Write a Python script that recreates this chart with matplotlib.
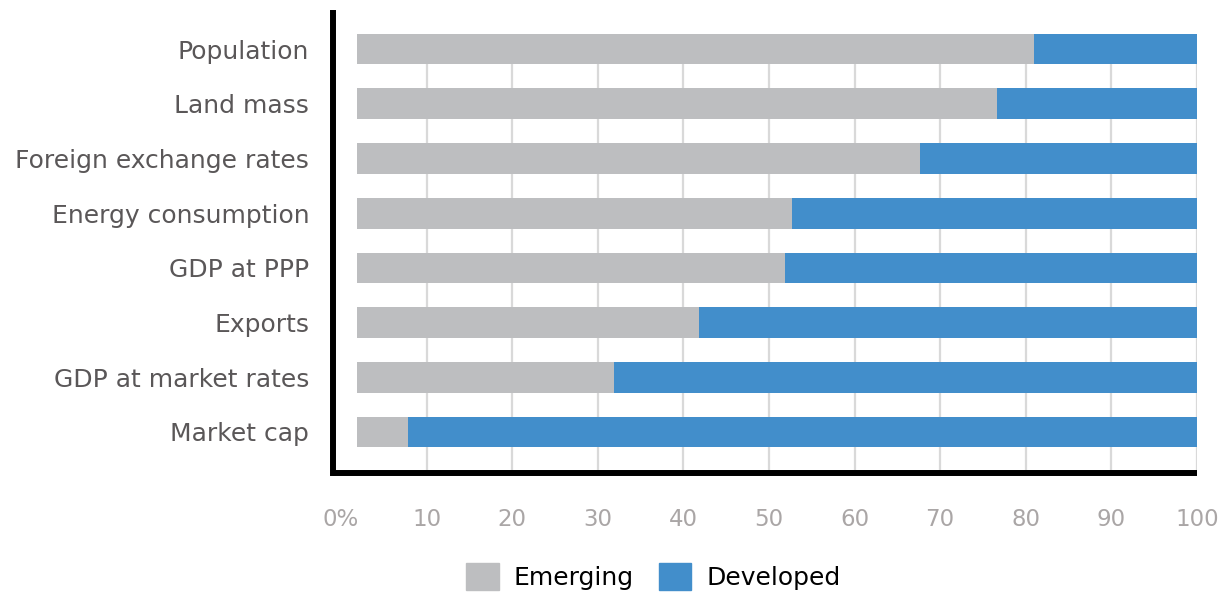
import numpy as np
import matplotlib.pyplot as plt
from matplotlib.patches import Patch

categories = ["Population", "Land mass", "Foreign exchange rates", "Energy consumption",
              "GDP at PPP", "Exports", "GDP at market rates", "Market cap"]
emerging = [81, 76.6, 67.6, 52.7, 51.9, 41.8, 31.9, 7.8]
developed = [100 - e for e in emerging]
tick_vals = [0, 10, 20, 30, 40, 50, 60, 70, 80, 90, 100]
tick_labels = ["0%", "10", "20", "30", "40", "50", "60", "70", "80", "90", "100"]

grey = "#bdbec0"
blue = "#428ecb"
font = "DejaVu Sans"

fig = plt.figure(figsize=(12.26, 5.95), dpi=100)
ax = fig.add_axes([0.2716, 0.205, 0.7047, 0.7732])

y = np.arange(len(categories))
bar_start = 1.9
h = 0.56
em_w = [e - bar_start for e in emerging]
ax.barh(y, em_w, left=bar_start, height=h, color=grey, zorder=3)
ax.barh(y, developed, left=emerging, height=h, color=blue, zorder=3)

ax.vlines(tick_vals[1:], 7.75, -h / 2, color="#d9d9d9", lw=1.6, zorder=1)

ax.set_xlim(-0.93, 100)
ax.set_ylim(7.75, -0.66)

for s in ["top", "right"]:
    ax.spines[s].set_visible(False)
ax.spines["left"].set_linewidth(4.3)
ax.spines["bottom"].set_linewidth(4.3)
ax.spines["bottom"].set_capstyle("butt")

ax.set_yticks(y)
ax.set_yticklabels(categories, fontsize=18, color="#5a5758", family=font)
ax.tick_params(axis="y", length=0, pad=17)
ax.set_xticks(tick_vals)
ax.set_xticklabels(tick_labels, fontsize=16.5, color="#aaa6a6", family=font)
ax.tick_params(axis="x", length=0, pad=25)

handles = [Patch(color=grey, label="Emerging"), Patch(color=blue, label="Developed")]
fig.legend(handles=handles, loc="lower center", bbox_to_anchor=(0.533, -0.03), ncol=2,
           frameon=False, prop={"family": font, "size": 18}, handlelength=1.3,
           handleheight=1.3, handletextpad=0.6, columnspacing=1.0)

fig.savefig("out.png", dpi=100)
